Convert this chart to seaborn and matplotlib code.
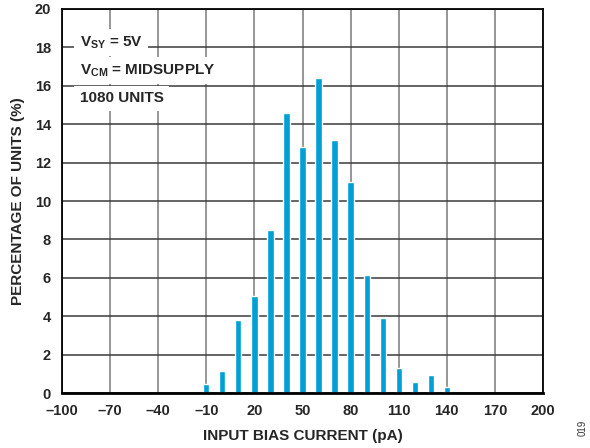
import matplotlib
matplotlib.use("Agg")
import matplotlib.pyplot as plt
import seaborn as sns
import pandas as pd

bias_current = [-10, 0, 10, 20, 30, 40, 50, 60, 70, 80, 90, 100, 110, 120, 130, 140]
percentage = [0.45, 1.15, 3.8, 5.05, 8.5, 14.6, 12.8, 16.4, 13.2, 11.0, 6.15, 3.9, 1.3, 0.55, 0.95, 0.3]
x_ticks = [-100, -70, -40, -10, 20, 50, 80, 110, 140, 170, 200]
y_ticks = [0, 2, 4, 6, 8, 10, 12, 14, 16, 18, 20]
notes = [r"$\mathbf{V_{SY}}$ = 5V", r"$\mathbf{V_{CM}}$ = MIDSUPPLY", "1080 UNITS"]

sns.set_theme(style="white")
plt.rcParams['font.family'] = ['Liberation Sans', 'DejaVu Sans']
plt.rcParams['mathtext.fontset'] = 'custom'
plt.rcParams['mathtext.bf'] = 'Liberation Sans:bold'
plt.rcParams['mathtext.rm'] = 'Liberation Sans:bold'
plt.rcParams['mathtext.it'] = 'Liberation Sans:bold'

df = pd.DataFrame({"x": bias_current, "y": percentage})

fig = plt.figure(figsize=(5.9, 4.48), dpi=100)
ax = fig.add_axes([62/590, 55/448, 481/590, 384/448])

sns.barplot(data=df, x="x", y="y", native_scale=True, width=0.39,
            color="#009FD6", saturation=1, ax=ax, zorder=3)

ax.set_xlim(-100, 200)
ax.set_ylim(0, 20)
ax.set_xticks(x_ticks)
ax.set_xticklabels([str(t).replace("-", "\u2013") for t in x_ticks])
ax.set_yticks(y_ticks)
for xv in x_ticks:
    ax.axvline(xv, color="#858585", lw=1.2, zorder=1)
for yv in y_ticks:
    ax.axhline(yv, color="#3a3a3a", lw=1.1, zorder=1)
ax.tick_params(axis="x", length=0, labelsize=10.5, pad=8)
ax.tick_params(axis="y", length=0, labelsize=10.5, pad=8)
for lab in ax.get_xticklabels() + ax.get_yticklabels():
    lab.set_fontweight("bold")
for sp in ax.spines.values():
    sp.set_color("black")
    sp.set_linewidth(1.3)
    sp.set_zorder(5)
ax.spines["bottom"].set_linewidth(2)

ax.set_xlabel("INPUT BIAS CURRENT (pA)", fontsize=11, fontweight="bold", labelpad=8)
ax.set_ylabel("PERCENTAGE OF UNITS (%)", fontsize=11, fontweight="bold", labelpad=7)

ys = [18.25, 16.8, 15.35]
for txt, yv in zip(notes, ys):
    ax.text(-89, yv, txt, fontsize=11, fontweight="bold", va="center", ha="left",
            zorder=4, bbox=dict(facecolor="white", edgecolor="none", pad=4))

fig.text(583/590, 1 - 428/448, "019", rotation=90, fontsize=7, ha="center", va="center", color="#333333")

fig.savefig("out.png", dpi=100)
